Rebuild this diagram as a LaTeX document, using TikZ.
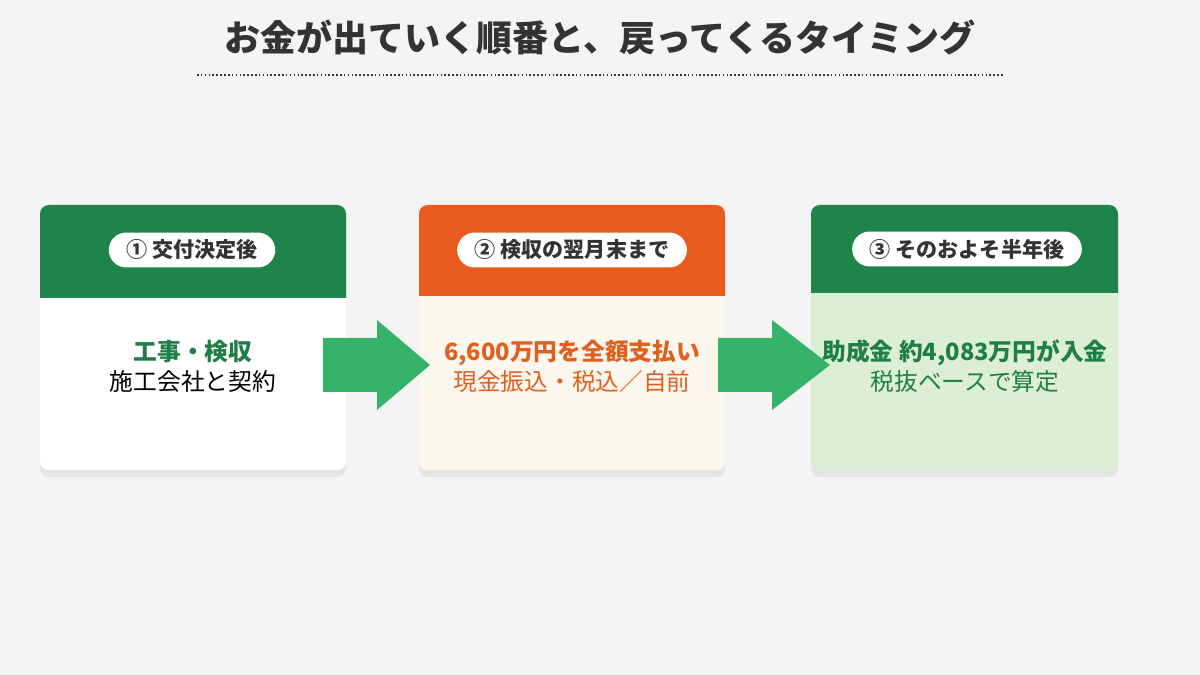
\documentclass[tikz,border=0pt]{standalone}
\usepackage{fontspec}
\setmainfont{Noto Sans CJK JP}
\usetikzlibrary{shadows,positioning}
\definecolor{bgc}{HTML}{F4F4F4}
\definecolor{hdgreen}{HTML}{1F8449}
\definecolor{hdorange}{HTML}{E85A1E}
\definecolor{arrgreen}{HTML}{35B36A}
\definecolor{crm}{HTML}{FBF7EE}
\definecolor{lgreen}{HTML}{DDEFD2}
\definecolor{txtgreen}{HTML}{1E7F45}
\definecolor{txtorange}{HTML}{E0601E}
\definecolor{ttl}{HTML}{333333}
\tikzset{
  card/.style={rounded corners=5pt,drop shadow={opacity=0.12,shadow xshift=0pt,shadow yshift=-4pt}},
  pill/.style={fill=white,rounded corners=10pt,minimum height=0.7cm,inner xsep=10pt,font=\fontsize{12}{14}\selectfont\bfseries,text=ttl},
  body/.style={align=center,font=\fontsize{13.5}{17}\selectfont},
  flow/.style={fill=arrgreen}
}
\begin{document}
\begin{tikzpicture}[x=0.02cm,y=-0.02cm]
\fill[bgc] (0,0) rectangle (1200,675);
\useasboundingbox (0,0) rectangle (1200,675);
% title
\node[font=\fontsize{20.5}{24}\selectfont\bfseries,text=ttl] (title) at (600,37) {お金が出ていく順番と、戻ってくるタイミング};
\draw[ttl,line width=0.9pt,dash pattern=on 0.9pt off 1.3pt] (197,75) -- (1003,75);
% cards
\fill[card,white] (40,205) rectangle (346,470);
\fill[hdgreen] (40,298) [rounded corners=5pt] -- (40,205) -- (346,205) [sharp corners] -- (346,298) -- cycle;
\fill[card,crm] (419,205) rectangle (725,470);
\fill[hdorange] (419,296) [rounded corners=5pt] -- (419,205) -- (725,205) [sharp corners] -- (725,296) -- cycle;
\fill[card,lgreen] (811,205) rectangle (1118,470);
\fill[hdgreen] (811,293) [rounded corners=5pt] -- (811,205) -- (1118,205) [sharp corners] -- (1118,293) -- cycle;
% labels
\node[pill] (p1) at (192,250) {① 交付決定後};
\node[pill] (p2) at (572,250) {② 検収の翌月末まで};
\node[pill] (p3) at (967,249) {③ そのおよそ半年後};
\node[body] (b1) at (193,366) {{\bfseries\color{txtgreen}工事・検収}\\施工会社と契約};
\node[body,text=txtorange] (b2) at (572,366) {{\bfseries 6,600万円を全額支払い}\\現金振込・税込／自前};
\node[body,text=txtgreen] (b3) at (965,366) {{\bfseries 助成金 約4,083万円が入金}\\税抜ベースで算定};
% arrows
\fill[flow] (323,338) -- (377,338) -- (377,320) -- (430,365) -- (377,410) -- (377,392) -- (323,392) -- cycle;
\fill[flow] (718,338) -- (772,338) -- (772,320) -- (830,365) -- (772,410) -- (772,392) -- (718,392) -- cycle;
\end{tikzpicture}
\end{document}
